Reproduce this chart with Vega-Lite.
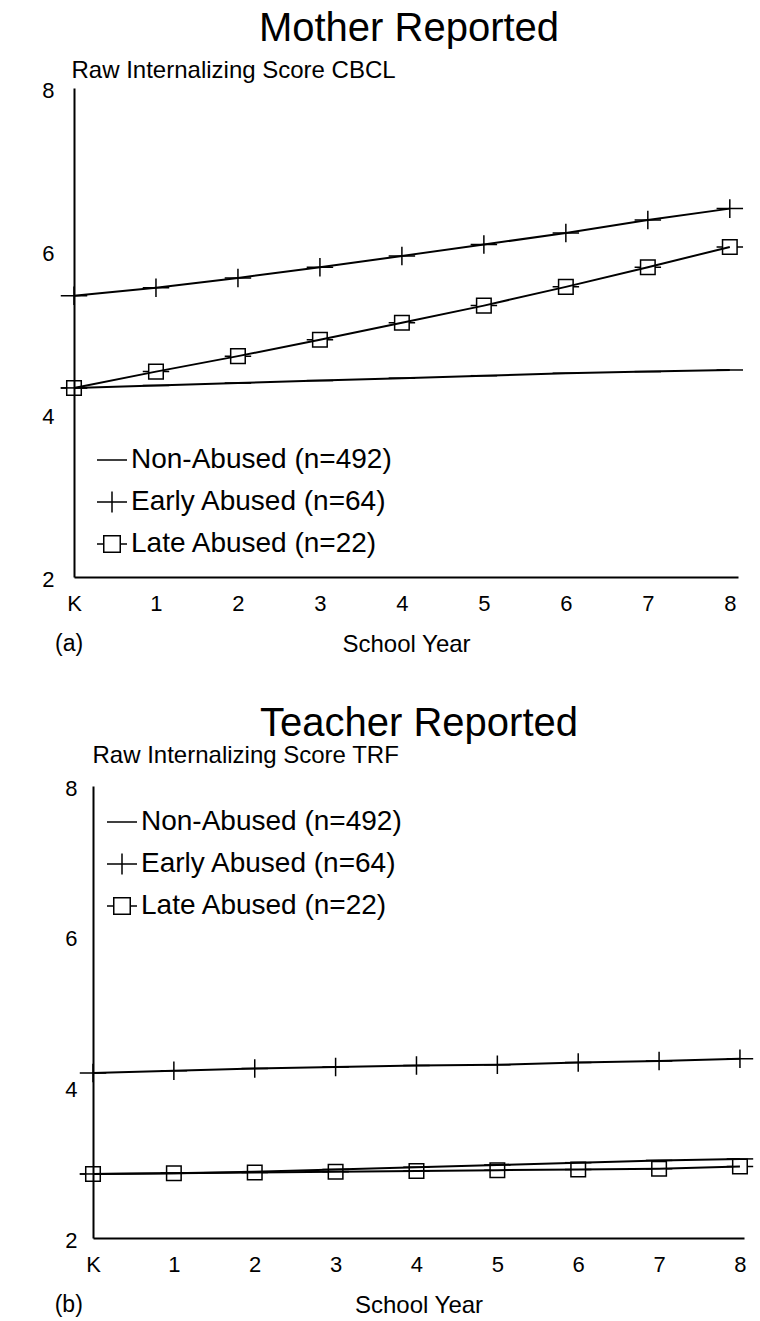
{
  "$schema": "https://vega.github.io/schema/vega-lite/v6.json",
  "background": "white",
  "padding": {"left": 41, "top": 9, "right": 5, "bottom": 5},
  "spacing": 48,
  "config": {
    "view": {"stroke": null},
    "font": "Liberation Sans",
    "axis": {
      "domainColor": "black",
      "domainWidth": 2,
      "ticks": false,
      "tickSize": 0,
      "grid": false,
      "labelFont": "Liberation Sans",
      "labelFontSize": 22,
      "labelColor": "black",
      "titleFont": "Liberation Sans",
      "titleColor": "black",
      "titleFontWeight": "normal"
    },
    "legend": {
      "labelFont": "Liberation Sans",
      "labelFontSize": 28,
      "labelColor": "black",
      "labelLimit": 500,
      "labelOffset": 3,
      "symbolSize": 900,
      "symbolStrokeWidth": 1.5,
      "symbolStrokeColor": "black",
      "rowPadding": 12,
      "padding": 0
    },
    "title": {"font": "Liberation Sans", "fontSize": 40, "fontWeight": "normal", "color": "black"}
  },
  "datasets": {
    "mother": [
      {"group": "Non-Abused (n=492)", "year": 0, "score": 4.32},
      {"group": "Non-Abused (n=492)", "year": 1, "score": 4.35},
      {"group": "Non-Abused (n=492)", "year": 2, "score": 4.38},
      {"group": "Non-Abused (n=492)", "year": 3, "score": 4.41},
      {"group": "Non-Abused (n=492)", "year": 4, "score": 4.44},
      {"group": "Non-Abused (n=492)", "year": 5, "score": 4.47},
      {"group": "Non-Abused (n=492)", "year": 6, "score": 4.50},
      {"group": "Non-Abused (n=492)", "year": 7, "score": 4.52},
      {"group": "Non-Abused (n=492)", "year": 8, "score": 4.54},
      {"group": "Early Abused (n=64)", "year": 0, "score": 5.45},
      {"group": "Early Abused (n=64)", "year": 1, "score": 5.55},
      {"group": "Early Abused (n=64)", "year": 2, "score": 5.67},
      {"group": "Early Abused (n=64)", "year": 3, "score": 5.80},
      {"group": "Early Abused (n=64)", "year": 4, "score": 5.94},
      {"group": "Early Abused (n=64)", "year": 5, "score": 6.08},
      {"group": "Early Abused (n=64)", "year": 6, "score": 6.22},
      {"group": "Early Abused (n=64)", "year": 7, "score": 6.38},
      {"group": "Early Abused (n=64)", "year": 8, "score": 6.52},
      {"group": "Late Abused (n=22)", "year": 0, "score": 4.32},
      {"group": "Late Abused (n=22)", "year": 1, "score": 4.52},
      {"group": "Late Abused (n=22)", "year": 2, "score": 4.71},
      {"group": "Late Abused (n=22)", "year": 3, "score": 4.91},
      {"group": "Late Abused (n=22)", "year": 4, "score": 5.12},
      {"group": "Late Abused (n=22)", "year": 5, "score": 5.33},
      {"group": "Late Abused (n=22)", "year": 6, "score": 5.56},
      {"group": "Late Abused (n=22)", "year": 7, "score": 5.80},
      {"group": "Late Abused (n=22)", "year": 8, "score": 6.05}
    ],
    "teacher": [
      {"group": "Non-Abused (n=492)", "year": 0, "score": 2.85},
      {"group": "Non-Abused (n=492)", "year": 1, "score": 2.86},
      {"group": "Non-Abused (n=492)", "year": 2, "score": 2.88},
      {"group": "Non-Abused (n=492)", "year": 3, "score": 2.91},
      {"group": "Non-Abused (n=492)", "year": 4, "score": 2.94},
      {"group": "Non-Abused (n=492)", "year": 5, "score": 2.97},
      {"group": "Non-Abused (n=492)", "year": 6, "score": 3.00},
      {"group": "Non-Abused (n=492)", "year": 7, "score": 3.03},
      {"group": "Non-Abused (n=492)", "year": 8, "score": 3.05},
      {"group": "Early Abused (n=64)", "year": 0, "score": 4.19},
      {"group": "Early Abused (n=64)", "year": 1, "score": 4.22},
      {"group": "Early Abused (n=64)", "year": 2, "score": 4.25},
      {"group": "Early Abused (n=64)", "year": 3, "score": 4.27},
      {"group": "Early Abused (n=64)", "year": 4, "score": 4.29},
      {"group": "Early Abused (n=64)", "year": 5, "score": 4.30},
      {"group": "Early Abused (n=64)", "year": 6, "score": 4.33},
      {"group": "Early Abused (n=64)", "year": 7, "score": 4.35},
      {"group": "Early Abused (n=64)", "year": 8, "score": 4.38},
      {"group": "Late Abused (n=22)", "year": 0, "score": 2.85},
      {"group": "Late Abused (n=22)", "year": 1, "score": 2.86},
      {"group": "Late Abused (n=22)", "year": 2, "score": 2.87},
      {"group": "Late Abused (n=22)", "year": 3, "score": 2.88},
      {"group": "Late Abused (n=22)", "year": 4, "score": 2.89},
      {"group": "Late Abused (n=22)", "year": 5, "score": 2.90},
      {"group": "Late Abused (n=22)", "year": 6, "score": 2.91},
      {"group": "Late Abused (n=22)", "year": 7, "score": 2.92},
      {"group": "Late Abused (n=22)", "year": 8, "score": 2.95}
    ]
  },
  "resolve": {
    "scale": {"x": "independent", "y": "independent", "shape": "independent"},
    "legend": {"shape": "independent"}
  },
  "vconcat": [
    {
      "width": 670,
      "height": 489,
      "title": {"text": "Mother Reported", "anchor": "middle", "frame": "group", "dx": 0, "offset": 9},
      "layer": [
        {
          "data": {"name": "mother"},
          "mark": {"type": "line", "color": "black", "strokeWidth": 2},
          "encoding": {
            "x": {"field": "year", "type": "quantitative",
                  "scale": {"domain": [0, 8.1], "range": [0, 664], "nice": false, "zero": false},
                  "axis": {"values": [0,1,2,3,4,5,6,7,8], "format": "d", "labelExpr": "datum.value == 0 ? 'K' : datum.label",
                           "labelFlush": false, "labelPadding": 16, "title": "School Year", "titleFontSize": 24,
                           "titleY": 67, "titleBaseline": "middle"}},
            "y": {"field": "score", "type": "quantitative",
                  "scale": {"domain": [2, 8], "nice": false, "zero": false},
                  "axis": {"values": [2,4,6,8], "format": "d", "labelPadding": 20, "labelOffset": 2,
                           "title": "Raw Internalizing Score CBCL", "titleFontSize": 24, "titleAngle": 0,
                           "titleAlign": "left", "titleBaseline": "middle", "titleX": -3, "titleY": -18}},
            "detail": {"field": "group"}
          }
        },
        {
          "data": {"name": "mother"},
          "mark": {"type": "point", "filled": false, "color": "black", "strokeWidth": 1.5, "size": 700, "opacity": 1},
          "encoding": {
            "x": {"field": "year", "type": "quantitative"},
            "y": {"field": "score", "type": "quantitative"},
            "shape": {"field": "group", "type": "nominal",
                      "scale": {"domain": ["Non-Abused (n=492)", "Early Abused (n=64)", "Late Abused (n=22)"],
                                "range": ["M-1,0H1", "M-1,0H1M0,-0.7V0.7", "M-1,0H-0.55M0.55,0H1M-0.55,-0.55H0.55V0.55H-0.55Z"]},
                      "legend": {"title": null, "orient": "none", "legendX": 22, "legendY": 356}}
          }
        },
        {
          "data": {"values": [{"tag": "(a)"}]},
          "mark": {"type": "text", "fontSize": 23, "color": "black", "clip": false},
          "encoding": {
            "text": {"field": "tag"},
            "x": {"datum": -0.06},
            "y": {"datum": 1.18}
          }
        }
      ]
    },
    {
      "width": 670,
      "height": 452,
      "title": {"text": "Teacher Reported", "anchor": "middle", "frame": "group", "dx": 10, "offset": -1},
      "layer": [
        {
          "data": {"name": "teacher"},
          "mark": {"type": "line", "color": "black", "strokeWidth": 2},
          "encoding": {
            "x": {"field": "year", "type": "quantitative",
                  "scale": {"domain": [0, 8.05], "range": [19, 670], "nice": false, "zero": false},
                  "axis": {"values": [0,1,2,3,4,5,6,7,8], "format": "d", "labelExpr": "datum.value == 0 ? 'K' : datum.label",
                           "labelFlush": false, "labelPadding": 16, "title": "School Year", "titleFontSize": 24,
                           "titleY": 67, "titleBaseline": "middle"}},
            "y": {"field": "score", "type": "quantitative",
                  "scale": {"domain": [2, 8], "nice": false, "zero": false},
                  "axis": {"values": [2,4,6,8], "format": "d", "labelPadding": 16, "labelOffset": 2, "offset": -19,
                           "title": "Raw Internalizing Score TRF", "titleFontSize": 24, "titleAngle": 0,
                           "titleAlign": "left", "titleBaseline": "middle", "titleX": -1, "titleY": -31}},
            "detail": {"field": "group"}
          }
        },
        {
          "data": {"name": "teacher"},
          "mark": {"type": "point", "filled": false, "color": "black", "strokeWidth": 1.5, "size": 700, "opacity": 1},
          "encoding": {
            "x": {"field": "year", "type": "quantitative"},
            "y": {"field": "score", "type": "quantitative"},
            "shape": {"field": "group", "type": "nominal",
                      "scale": {"domain": ["Non-Abused (n=492)", "Early Abused (n=64)", "Late Abused (n=22)"],
                                "range": ["M-1,0H1", "M-1,0H1M0,-0.7V0.7", "M-1,0H-0.55M0.55,0H1M-0.55,-0.55H0.55V0.55H-0.55Z"]},
                      "legend": {"title": null, "orient": "none", "legendX": 32, "legendY": 20}}
          }
        },
        {
          "data": {"values": [{"tag": "(b)"}]},
          "mark": {"type": "text", "fontSize": 23, "color": "black", "clip": false},
          "encoding": {
            "text": {"field": "tag"},
            "x": {"datum": -0.3},
            "y": {"datum": 1.11}
          }
        }
      ]
    }
  ]
}
